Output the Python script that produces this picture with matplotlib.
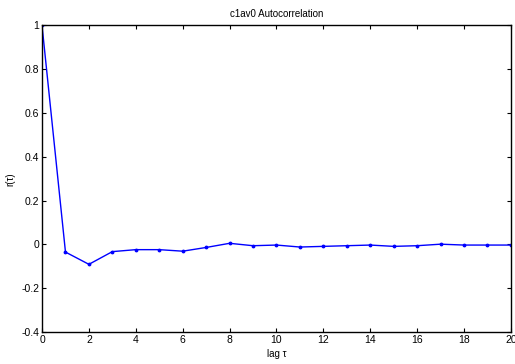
import numpy as np
import matplotlib
matplotlib.use("Agg")
import matplotlib.pyplot as plt

plt.rcParams['font.family'] = ['Liberation Sans', 'DejaVu Sans']

# autocorrelation values per lag
lags = list(range(21))
r = [1.0, -0.035, -0.091, -0.033, -0.024, -0.024, -0.031, -0.014, 0.005,
     -0.006, -0.003, -0.012, -0.009, -0.006, -0.003, -0.009, -0.006,
     0.001, -0.003, -0.003, -0.003]

fig = plt.figure(figsize=(5.15, 3.64), dpi=100)
ax = fig.add_axes([0.0816, 0.088, 0.9104, 0.842])

ax.plot(lags, r, color='#0000ff', lw=1.0, marker='.', ms=3.5)

ax.set_xlim(0, 20)
ax.set_ylim(-0.4, 1.0)
ax.set_xticks(np.arange(0, 21, 2))
ax.set_yticks([-0.4, -0.2, 0, 0.2, 0.4, 0.6, 0.8, 1])
ax.set_yticklabels(['-0.4', '-0.2', '0', '0.2', '0.4', '0.6', '0.8', '1'])

ax.tick_params(direction='in', top=True, right=True, labelsize=7.5,
               length=3, width=0.8, pad=2)
for s in ax.spines.values():
    s.set_linewidth(1.0)

ax.set_title('c1av0 Autocorrelation', fontsize=7, pad=6)
ax.set_xlabel('lag τ', fontsize=7, labelpad=3)
ax.set_ylabel('r(τ)', fontsize=7, labelpad=4)

fig.savefig('out.png', dpi=100)
